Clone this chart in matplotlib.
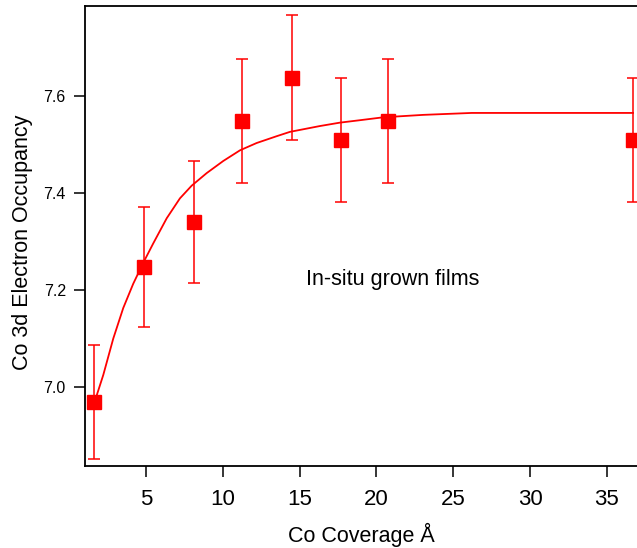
import matplotlib
matplotlib.use("Agg")
import matplotlib.pyplot as plt

plt.rcParams['font.family'] = ['Liberation Sans', 'DejaVu Sans']

# measured points (coverage in Angstrom, occupancy, error)
coverage = [1.62, 4.9, 8.1, 11.25, 14.5, 17.7, 20.75, 36.7]
occupancy = [6.969, 7.248, 7.340, 7.548, 7.638, 7.509, 7.548, 7.509]
err = [0.118, 0.124, 0.125, 0.128, 0.129, 0.128, 0.128, 0.128]

# fit curve
fit_x = [1.62, 2.22, 2.87, 3.52, 4.17, 4.82, 5.47, 6.35, 7.21, 7.97, 8.95,
         10.03, 11.12, 12.2, 13.5, 14.37, 16.32, 17.62, 18.92, 20.44, 23.04,
         26.2, 36.7]
fit_y = [6.966, 7.025, 7.100, 7.163, 7.213, 7.256, 7.296, 7.348, 7.389, 7.415,
         7.441, 7.466, 7.488, 7.503, 7.517, 7.526, 7.538, 7.545, 7.550, 7.556,
         7.561, 7.565, 7.565]

fig = plt.figure(figsize=(6.37, 5.48), dpi=100)
ax = fig.add_axes([85.3 / 637, 1 - 465.7 / 548, (653 - 85.3) / 637, (465.7 - 5.7) / 548])

ax.plot(fit_x, fit_y, color='#ff0000', lw=1.3, zorder=2)
ax.errorbar(coverage, occupancy, yerr=err, fmt='s', color='#ff0000',
            ms=9.5, elinewidth=1.1, capsize=4.5, capthick=1.1, zorder=3,
            clip_on=False)

ax.set_xlim(1.05, 38)
ax.set_ylim(6.838, 7.786)
ax.set_xticks([5, 10, 15, 20, 25, 30, 35])
ax.set_yticks([7.0, 7.2, 7.4, 7.6])
ax.set_yticklabels(['7.0', '7.2', '7.4', '7.6'])

for s in ['left', 'bottom', 'top']:
    ax.spines[s].set_linewidth(1.3)
ax.spines['right'].set_visible(False)

ax.tick_params(axis='x', direction='out', length=8, width=1.1, labelsize=16, pad=9)
ax.tick_params(axis='y', direction='out', length=8, width=1.1, labelsize=11.5, pad=6)

ax.set_xlabel('Co Coverage Å', fontsize=15.5)
ax.xaxis.set_label_coords((361 - 85.3) / (653 - 85.3), -0.125)
ax.set_ylabel('Co 3d Electron Occupancy', fontsize=15.5)
ax.yaxis.set_label_coords(-0.093, 0.485)

ax.text(21.07, 7.221, 'In-situ grown films', fontsize=15.5, ha='center', va='center')

fig.savefig('out.png', dpi=100)
